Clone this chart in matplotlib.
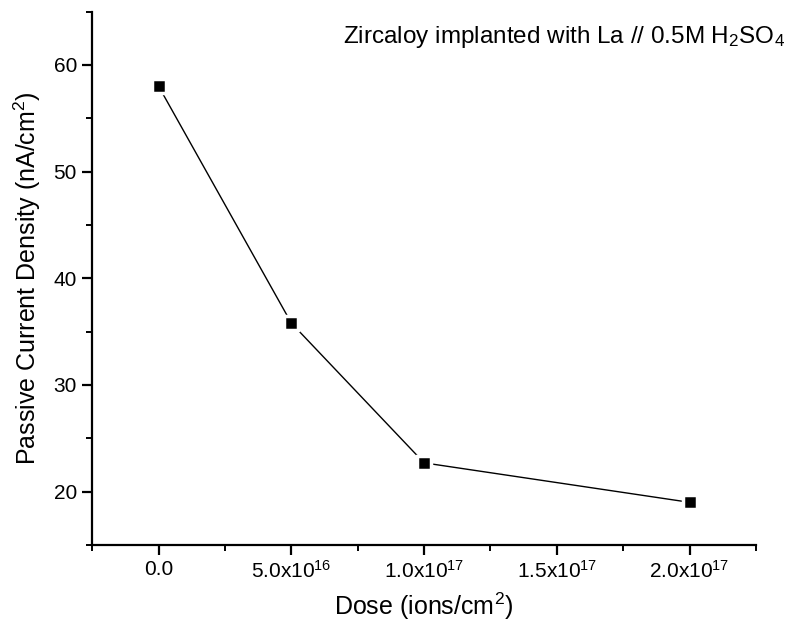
import matplotlib.pyplot as plt
from matplotlib.ticker import MultipleLocator, FuncFormatter

plt.rcParams['font.family'] = ['Liberation Sans', 'DejaVu Sans']
plt.rcParams['mathtext.default'] = 'regular'

# dose (ions/cm^2) vs passive current density (nA/cm^2)
dose = [0.0, 5.0e16, 1.0e17, 2.0e17]
current = [58.0, 35.8, 22.7, 19.0]


def fmt_dose(v, pos):
    if abs(v) < 1:
        return '0.0'
    exp = len(str(int(abs(v)))) - 1
    mant = v / 10 ** exp
    return r'$%.1fx10^{%d}$' % (mant, exp)


fig = plt.figure(figsize=(7.92, 6.26), dpi=100)
ax = fig.add_axes([0.1165, 0.1294, 0.838, 0.852])

ax.plot(dose, current, color='black', lw=1.0, marker='s', ms=9.5,
        mfc='black', mec='white', mew=2.5)

ax.set_xlim(-2.5e16, 2.25e17)
ax.set_ylim(15, 65)
ax.xaxis.set_major_locator(MultipleLocator(5e16))
ax.xaxis.set_minor_locator(MultipleLocator(2.5e16))
ax.yaxis.set_major_locator(MultipleLocator(10))
ax.yaxis.set_minor_locator(MultipleLocator(5))
ax.xaxis.set_major_formatter(FuncFormatter(fmt_dose))

for s in ['top', 'right']:
    ax.spines[s].set_visible(False)
for s in ['left', 'bottom']:
    ax.spines[s].set_linewidth(1.6)

ax.tick_params(which='major', direction='out', length=7, width=1.6,
               labelsize=15, pad=4)
ax.tick_params(which='minor', direction='out', length=4, width=1.4)

ax.set_xlabel(r'Dose (ions/cm$^2$)', fontsize=18, labelpad=6)
ax.set_ylabel(r'Passive Current Density (nA/cm$^2$)', fontsize=18, labelpad=8)

ax.text(0.378, 0.942, r'Zircaloy implanted with La // 0.5M H$_2$SO$_4$',
        transform=ax.transAxes, fontsize=17.5, ha='left', va='baseline')

fig.savefig('out.png', dpi=100)
